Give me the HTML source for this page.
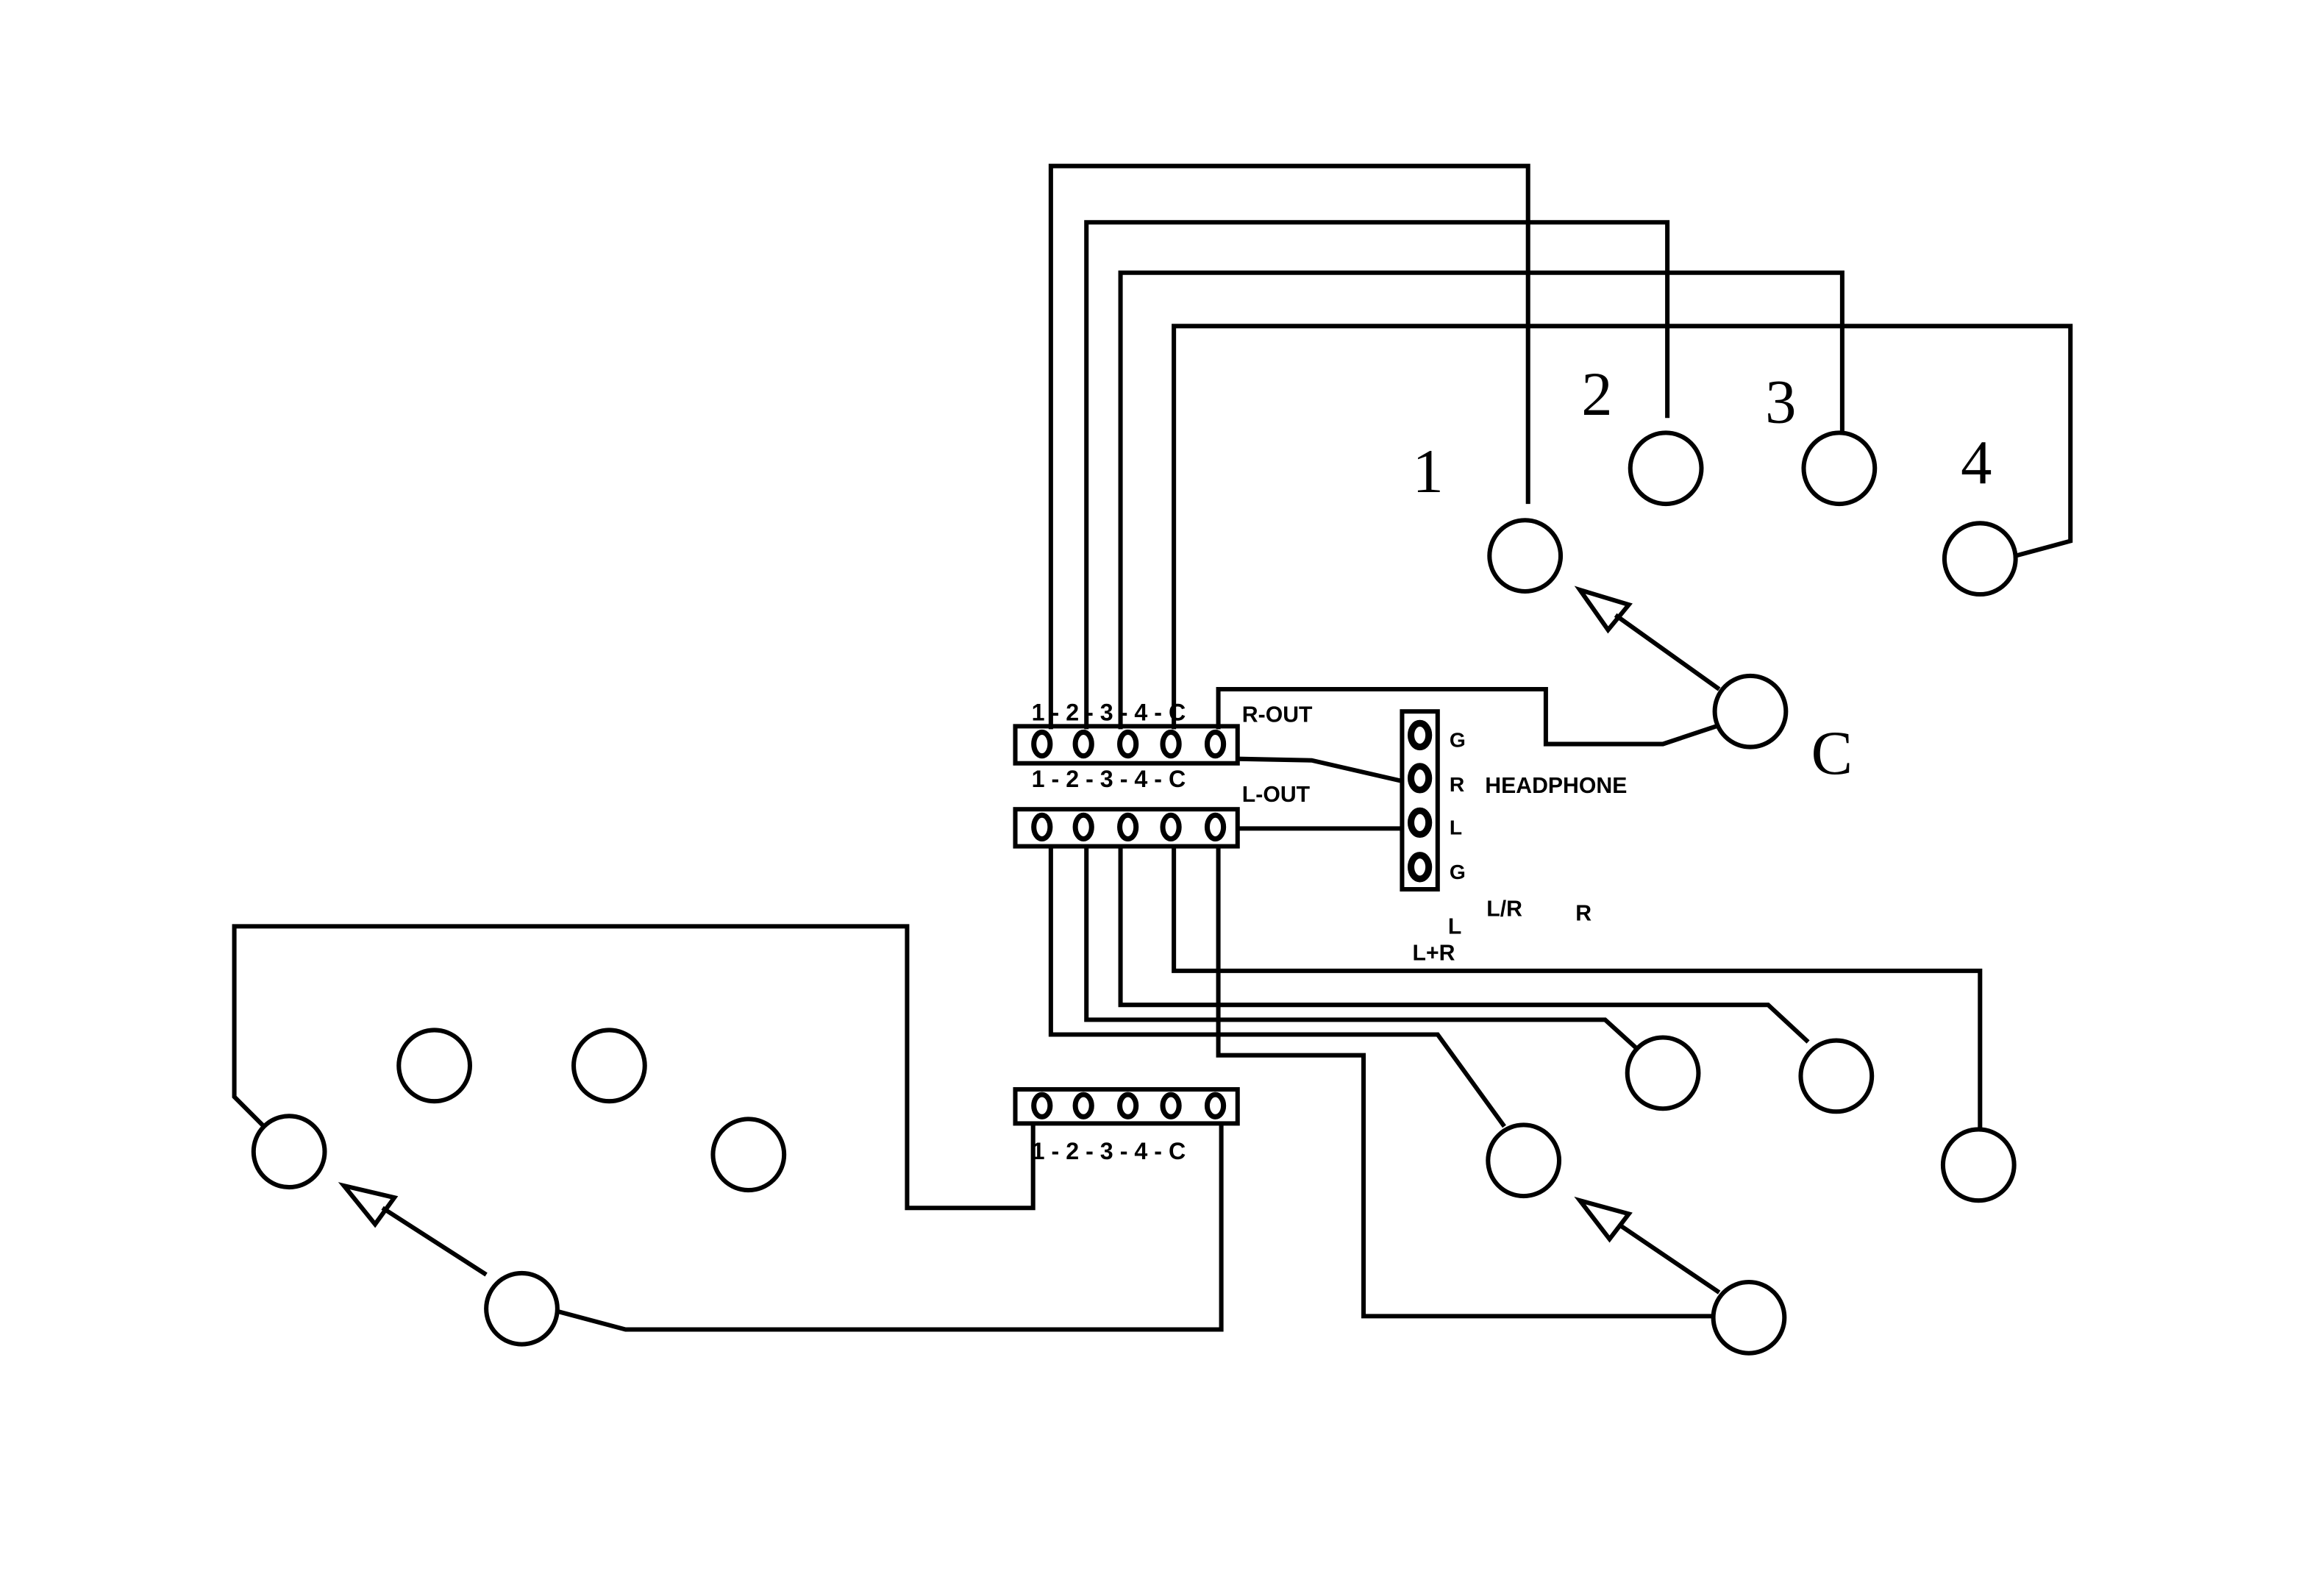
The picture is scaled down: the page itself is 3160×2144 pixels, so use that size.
<!DOCTYPE html>
<html><head><meta charset="utf-8"><style>
html,body{margin:0;padding:0;background:#fff;}
svg{display:block}
text{font-family:"Liberation Sans",sans-serif;font-weight:bold;fill:#000}
.s{font-family:"Liberation Serif",serif;font-weight:normal;font-size:42px}
</style></head><body>
<svg width="3160" height="2144" viewBox="0 0 1568 1064" xmlns="http://www.w3.org/2000/svg">
<rect width="1568" height="1064" fill="#fff"/>
<g fill="none" stroke="#000" stroke-width="3" stroke-linejoin="miter">
<polyline points="709,492 709,112 1031,112 1031,340"/>
<polyline points="733,492 733,150 1125,150 1125,282"/>
<polyline points="756,492 756,184 1243,184 1243,292"/>
<polyline points="792,492 792,220 1397,220 1397,365 1360,375"/>
<polyline points="822,492 822,465 1043,465 1043,502 1122,502 1158,490"/>
<circle cx="1029" cy="375" r="24"/>
<circle cx="1124" cy="316" r="24"/>
<circle cx="1241" cy="316" r="24"/>
<circle cx="1336" cy="377" r="24"/>
<circle cx="1181" cy="480" r="24"/>
<line x1="1160" y1="465" x2="1090" y2="415"/>
<polygon points="1066,398 1099,408 1085,425" />
<rect x="685" y="490" width="150" height="25"/>
<rect x="685" y="546" width="150" height="25"/>
<rect x="685" y="735" width="150" height="23"/>
<rect x="946" y="480" width="24" height="120"/>
<polyline points="835,512 885,513 946,527"/>
<line x1="835" y1="559" x2="946" y2="559"/>
<polyline points="709,571 709,698 970,698 1015,760"/>
<polyline points="733,571 733,688 1083,688 1105,708"/>
<polyline points="756,571 756,678 1193,678 1220,703"/>
<polyline points="792,571 792,655 1336,655 1336,762"/>
<polyline points="822,571 822,712 920,712 920,888 1156,888"/>
<circle cx="1028" cy="783" r="24"/>
<circle cx="1122" cy="724" r="24"/>
<circle cx="1239" cy="726" r="24"/>
<circle cx="1335" cy="786" r="24"/>
<circle cx="1180" cy="889" r="24"/>
<line x1="1160" y1="872" x2="1092" y2="826"/>
<polygon points="1066,810 1099,819 1086,836"/>
<circle cx="293" cy="719" r="24"/>
<circle cx="411" cy="719" r="24"/>
<circle cx="505" cy="779" r="24"/>
<circle cx="195" cy="777" r="24"/>
<circle cx="352" cy="883" r="24"/>
<polyline points="178,760 158,740 158,625 612,625 612,815 697,815 697,758"/>
<polyline points="824,758 824,897 422,897 377,885"/>
<line x1="328" y1="860" x2="258" y2="815"/>
<polygon points="232,800 266,808 253,826"/>
</g>
<g fill="#fff" stroke="#000" stroke-width="3.5">
<ellipse cx="703" cy="502" rx="5.5" ry="8"/><ellipse cx="731" cy="502" rx="5.5" ry="8"/><ellipse cx="761" cy="502" rx="5.5" ry="8"/><ellipse cx="790" cy="502" rx="5.5" ry="8"/><ellipse cx="820" cy="502" rx="5.5" ry="8"/>
<ellipse cx="703" cy="558" rx="5.5" ry="8"/><ellipse cx="731" cy="558" rx="5.5" ry="8"/><ellipse cx="761" cy="558" rx="5.5" ry="8"/><ellipse cx="790" cy="558" rx="5.5" ry="8"/><ellipse cx="820" cy="558" rx="5.5" ry="8"/>
<ellipse cx="703" cy="746" rx="5.5" ry="7.5"/><ellipse cx="731" cy="746" rx="5.5" ry="7.5"/><ellipse cx="761" cy="746" rx="5.5" ry="7.5"/><ellipse cx="790" cy="746" rx="5.5" ry="7.5"/><ellipse cx="820" cy="746" rx="5.5" ry="7.5"/>
<ellipse cx="958" cy="496" rx="6" ry="8" stroke-width="4.5"/><ellipse cx="958" cy="525" rx="6" ry="8" stroke-width="4.5"/><ellipse cx="958" cy="555" rx="6" ry="8" stroke-width="4.5"/><ellipse cx="958" cy="585" rx="6" ry="8" stroke-width="4.5"/>
</g>
<text x="696" y="486" font-size="16">1 - 2 - 3 - 4 - C</text>
<text x="838" y="487" font-size="15" font-weight="normal">R-OUT</text>
<text x="696" y="531" font-size="16" font-weight="normal">1 - 2 - 3 - 4 - C</text>
<text x="838" y="541" font-size="15" font-weight="normal">L-OUT</text>
<text x="696" y="782" font-size="16">1 - 2 - 3 - 4 - C</text>
<text x="978" y="504" font-size="14">G</text>
<text x="978" y="534" font-size="14">R</text>
<text x="978" y="563" font-size="14" font-weight="normal">L</text>
<text x="978" y="593" font-size="14">G</text>
<text x="1002" y="535" font-size="15">HEADPHONE</text>
<text x="1003" y="618" font-size="15">L/R</text>
<text x="1063" y="621" font-size="15">R</text>
<text x="977" y="630" font-size="15">L</text>
<text x="953" y="648" font-size="15">L+R</text>
<text class="s" x="953" y="332">1</text>
<text class="s" x="1067" y="280">2</text>
<text class="s" x="1191" y="285">3</text>
<text class="s" x="1323" y="326">4</text>
<text class="s" x="1222" y="522">C</text>
</svg>
</body></html>
